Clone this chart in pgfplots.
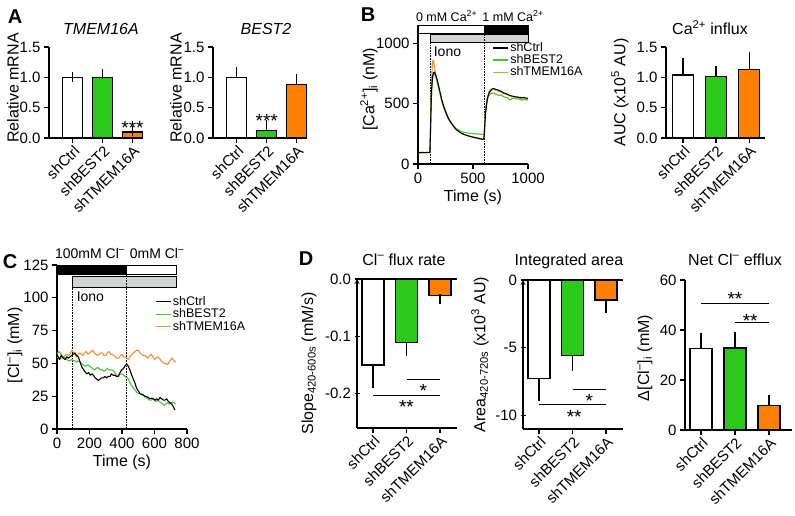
\documentclass[border=0pt]{standalone}
\usepackage{pgfplots}
\pgfplotsset{compat=1.18}
\usepackage{fontspec}
\setmainfont{Liberation Sans}
\definecolor{kgreen}{RGB}{44,200,28}
\definecolor{korange}{RGB}{255,128,0}
\definecolor{tgreen}{RGB}{70,200,50}
\definecolor{torange}{RGB}{245,145,50}
\definecolor{kgray}{RGB}{208,212,212}
\newcommand{\fs}[1]{\fontsize{#1}{#1}\selectfont}

\tikzset{
  stars/.style={font=\fs{19}, yshift=-4pt},
  stim/.style={draw=black, line width=1pt},
  ttl/.style={font=\fs{16}, anchor=base},
}
\pgfplotsset{
  base/.style={scale only axis, anchor=south west, axis lines=left,
    axis line style={-, line width=1.2pt}, tick style={black, line width=1.2pt},
    tick align=outside, major tick length=5pt, enlargelimits=false, clip=false,
    tick label style={font=\fs{15}}, label style={font=\fs{16}},
    /pgf/number format/assume math mode=true, /pgf/number format/1000 sep={}},
  ylab/.style 2 args={ylabel style={at={(axis description cs:#1,#2)}, anchor=center}},
  catbars/.style={xtick={0,1,2}, xticklabels={shCtrl,shBEST2,shTMEM16A},
    xticklabel style={rotate=45, anchor=north east, inner sep=1pt}, bar width=20pt},
  onedec/.style={yticklabel style={/pgf/number format/.cd, fixed, fixed zerofill, precision=1}},
  mybar/.style={ybar, draw=black, line width=1.2pt, fill=#1,
    error bars/.cd, y dir=plus, y explicit,
    error bar style={line width=1.2pt, black},
    error mark options={black, line width=1.2pt, mark size=5pt}},
  negbar/.style={ybar, draw=black, line width=1.2pt, fill=#1,
    error bars/.cd, y dir=minus, y explicit,
    error bar style={line width=1.2pt, black},
    error mark options={black, line width=1.2pt, mark size=5pt}},
  trace/.style={line width=1.1pt, no marks, line join=round, #1},
}

\begin{document}
\begin{tikzpicture}
\path[use as bounding box] (0pt,0pt) rectangle (795pt,-516pt);

% ---------- A: TMEM16A ----------
\begin{axis}[base, catbars, onedec, at={(49pt,-138pt)}, width=94pt, height=91pt,
  xmin=-0.8, xmax=2.35, ymin=0, ymax=1.5, ytick={0,0.5,1,1.5},
  ylabel={Relative mRNA}, ylab={-0.383}{0.55}]
\addplot[mybar=white] coordinates {(0,1.00) +- (0,0.01)};
\addplot[mybar=kgreen] coordinates {(1,1.00) +- (0,0.05)};
\addplot[mybar=korange] coordinates {(2,0.10) +- (0,0.01)};
\node[stars] at (axis cs:2,0.23) {***};
\end{axis}

% ---------- A: BEST2 ----------
\begin{axis}[base, catbars, onedec, at={(213pt,-138pt)}, width=94pt, height=91pt,
  xmin=-0.8, xmax=2.35, ymin=0, ymax=1.5, ytick={0,0.5,1,1.5},
  ylabel={Relative mRNA}, ylab={-0.394}{0.55}]
\addplot[mybar=white] coordinates {(0,1.00) +- (0,0.09)};
\addplot[mybar=kgreen] coordinates {(1,0.13) +- (0,0.08)};
\addplot[mybar=korange] coordinates {(2,0.88) +- (0,0.09)};
\node[stars] at (axis cs:1,0.35) {***};
\end{axis}

% ---------- B: Ca2+ traces ----------
\begin{axis}[base, at={(418pt,-164pt)}, width=110pt, height=139pt,
  xmin=0, xmax=1000, ymin=0, ymax=1150, xtick={0,500,1000}, ytick={0,500,1000},
  xlabel={Time (s)}, ylabel={[Ca\textsuperscript{2+}]\textsubscript{i} (nM)},
  ylab={-0.445}{0.536},
  reverse legend, legend cell align=left,
  legend style={draw=none, fill=none, at={(0.677,0.885)}, anchor=north west,
    font=\fs{12.5}, row sep=-1.5pt, inner sep=0pt, nodes={inner sep=1.5pt}},
  legend image code/.code={\draw[#1] (0pt,0pt) -- (15pt,0pt);}]
\draw[stim, fill=white] (axis cs:0,1083) rectangle (axis cs:600,1149);
\draw[stim, fill=black] (axis cs:600,1083) rectangle (axis cs:1000,1149);
\draw[stim, fill=kgray] (axis cs:110,1006) rectangle (axis cs:1000,1072);
\draw[densely dotted, line width=0.6pt] (axis cs:110,0) -- (axis cs:110,1006);
\draw[densely dotted, line width=0.6pt] (axis cs:600,0) -- (axis cs:600,1083);
\node[font=\fs{12.5}] at (axis cs:260,1223) {0 mM Ca\textsuperscript{2+}};
\node[font=\fs{12.5}] at (axis cs:864,1223) {1 mM Ca\textsuperscript{2+}};
\node[font=\fs{14}, anchor=west] at (axis cs:112,925) {Iono};
\addplot[trace=torange] coordinates {(0,95) (40,93) (80,96) (108,96) (113,280) (118,500) (124,700) (130,820) (136,858) (142,850) (150,800) (160,745) (170,700) (180,655) (195,600) (210,540) (225,490) (240,450) (255,415) (270,385) (285,360) (300,338) (320,315) (336,298) (350,285) (370,270) (390,258) (410,248) (430,240) (450,234) (470,228) (490,222) (510,217) (530,212) (550,209) (570,205) (585,202) (596,204) (602,240) (607,340) (613,430) (619,480) (626,530) (635,570) (645,595) (655,608) (665,618) (675,622) (688,618) (700,612) (715,608) (730,602) (745,598) (760,595) (775,586) (790,580) (805,576) (820,570) (835,565) (850,560) (865,556) (880,554) (895,550) (910,548) (925,545) (940,540) (955,536) (970,532) (985,530) (1000,528)};
\addlegendentry{shTMEM16A}
\addplot[trace=tgreen] coordinates {(0,95) (30,96) (60,93) (90,95) (108,95) (113,240) (118,430) (124,600) (132,705) (140,740) (148,745) (155,735) (165,710) (175,680) (185,645) (200,590) (215,532) (230,485) (245,447) (260,413) (276,380) (290,358) (305,340) (320,320) (336,302) (350,292) (370,280) (385,272) (400,266) (415,264) (430,260) (445,258) (460,255) (475,256) (490,252) (505,250) (520,252) (535,248) (550,249) (565,246) (580,247) (592,245) (598,248) (603,270) (608,350) (614,430) (620,480) (628,525) (638,555) (648,570) (658,580) (668,586) (678,585) (690,588) (700,580) (712,575) (725,570) (740,566) (755,572) (770,560) (785,555) (800,552) (815,548) (828,535) (840,530) (852,540) (865,546) (878,542) (890,538) (905,540) (920,536) (935,532) (950,528) (965,535) (980,538) (1000,535)};
\addlegendentry{shBEST2}
\addplot[trace=black] coordinates {(0,95) (20,93) (40,96) (60,94) (80,95) (100,94) (108,96) (113,250) (118,450) (124,620) (132,720) (140,755) (148,760) (155,750) (165,725) (175,695) (185,655) (200,595) (215,535) (230,487) (245,447) (260,412) (276,378) (290,356) (305,336) (320,315) (336,296) (350,283) (370,270) (385,260) (397,253) (415,246) (430,241) (445,236) (460,232) (475,229) (488,226) (505,222) (520,219) (535,216) (550,213) (565,210) (585,205) (596,207) (602,230) (607,320) (613,410) (619,460) (626,510) (635,555) (645,585) (655,600) (665,612) (675,620) (685,625) (695,622) (705,618) (720,614) (735,610) (750,604) (761,598) (775,590) (790,585) (805,580) (820,574) (835,568) (852,562) (870,560) (885,555) (900,556) (915,552) (930,550) (945,548) (960,550) (975,546) (990,545) (1000,544)};
\addlegendentry{shCtrl}
\end{axis}

% ---------- B: Ca2+ influx ----------
\begin{axis}[base, catbars, onedec, at={(666pt,-138pt)}, width=99pt, height=91pt,
  bar width=21pt, xmin=-0.515, xmax=2.48, ymin=0, ymax=1.5, ytick={0,0.5,1,1.5},
  ylabel={AUC (x10\textsuperscript{5} AU)}, ylab={-0.465}{0.5}]
\addplot[mybar=white] coordinates {(0,1.04) +- (0,0.19)};
\addplot[mybar=kgreen] coordinates {(1,1.01) +- (0,0.10)};
\addplot[mybar=korange] coordinates {(2,1.13) +- (0,0.20)};
\end{axis}

% ---------- C: Cl- traces ----------
\begin{axis}[base, at={(57pt,-429pt)}, width=130pt, height=164pt,
  xmin=0, xmax=800, ymin=0, ymax=125, xtick={0,200,...,800}, ytick={0,25,...,125},
  xlabel={Time (s)}, ylabel={[Cl\textsuperscript{--}]\textsubscript{i} (mM)},
  ylab={-0.323}{0.51},
  reverse legend, legend cell align=left,
  legend style={draw=none, fill=none, at={(0.755,0.82)}, anchor=north west,
    font=\fs{12.5}, row sep=-1pt, inner sep=0pt, nodes={inner sep=1.5pt}},
  legend image code/.code={\draw[#1] (0pt,0pt) -- (15pt,0pt);}]
\draw[stim, fill=black] (axis cs:0,118.1) rectangle (axis cs:425,125);
\draw[stim, fill=white] (axis cs:425,118.1) rectangle (axis cs:738,125);
\draw[stim, fill=kgray] (axis cs:95,108.2) rectangle (axis cs:738,115.9);
\draw[densely dotted, line width=0.6pt] (axis cs:95,0) -- (axis cs:95,108.2);
\draw[densely dotted, line width=0.6pt] (axis cs:425,0) -- (axis cs:425,118.1);
\node[font=\fs{14}] at (axis cs:203,134) {100mM Cl\textsuperscript{--}};
\node[font=\fs{14}] at (axis cs:615,134) {0mM Cl\textsuperscript{--}};
\node[font=\fs{14}, anchor=west] at (axis cs:100,100.5) {Iono};
\addplot[trace=torange] coordinates {(0,55) (10,54) (20,53) (30,55) (40,55) (50,56) (60,57) (70,56) (80,57) (90,60) (100,59) (110,57) (120,55) (130,57) (140,58) (150,57) (160,56) (170,58) (180,59) (190,57) (200,58) (210,59) (220,60) (230,58) (240,57) (250,56) (260,57) (270,58) (280,58) (290,56) (300,56) (310,58) (320,59) (330,57) (340,57) (350,56) (360,55) (370,54) (380,54) (390,56) (400,57) (410,55) (420,55) (430,54) (440,53) (450,55) (460,57) (470,58) (480,59) (490,60) (500,60) (510,58) (520,57) (530,56) (540,56) (550,55) (560,54) (570,56) (580,57) (590,55) (600,53) (610,54) (620,55) (630,54) (640,52) (650,51) (660,50) (670,50) (680,49) (690,51) (700,53) (710,54) (720,52) (730,51)};
\addlegendentry{shTMEM16A}
\addplot[trace=tgreen] coordinates {(0,57) (10,59) (20,58) (30,56) (40,55) (50,54) (60,53) (70,52) (80,52) (90,53) (100,52) (110,52) (120,51) (130,52) (140,51) (150,50) (160,49) (170,48) (180,48) (190,49) (200,48) (210,47) (220,46) (230,45) (240,46) (250,47) (260,46) (270,45) (280,45) (290,44) (300,45) (310,46) (320,45) (330,45) (340,45) (350,44) (360,42) (370,40) (380,41) (390,42) (400,42) (410,41) (420,40) (430,39) (440,38) (450,35) (460,33) (470,31) (480,30) (490,28) (500,27) (510,27) (520,26) (530,26) (540,25) (550,24) (560,23) (570,22) (580,22) (590,23) (600,22) (610,21) (620,22) (630,21) (640,20) (650,19) (660,18) (670,19) (680,20) (690,19) (700,20) (710,20) (720,20) (730,19)};
\addlegendentry{shBEST2}
\addplot[trace=black] coordinates {(0,56) (8,55) (15,53) (25,56) (39,54) (50,53) (60,55) (70,54) (80,55) (90,56) (100,57) (111,58) (120,56) (131,55) (140,52) (152,47.5) (160,46) (170,44) (183,42) (195,43) (205,41) (215,42) (224,41) (235,39) (245,38) (254,37) (265,38) (275,39) (285,39) (295,40) (305,39) (315,40) (326,40) (335,42) (345,41) (357,41) (367,40) (377,40) (388,43) (398,45) (408,46) (418,48) (429,49.5) (438,48) (449,45) (460,41) (470,38) (480,35) (490,31) (500,29) (511,27) (520,26.5) (530,26) (540,25) (552,24.6) (562,24) (572,23) (582,23.5) (593,23) (603,22) (613,23) (623,22) (634,24) (645,23) (655,22) (665,22) (675,23) (685,21) (695,20) (705,19) (716,17) (726,14.5)};
\addlegendentry{shCtrl}
\end{axis}

% ---------- D: Cl- flux rate ----------
\begin{axis}[base, catbars, onedec, at={(357pt,-428pt)}, width=100pt, height=149pt,
  axis x line=box, axis y line=left, xtick pos=left, ytick pos=left,
  bar width=22pt, xmin=-0.48, xmax=2.51, ymin=-0.26, ymax=0, ytick={-0.2,-0.1,0},
  ylabel={Slope\textsubscript{420-600s} (mM/s)}, ylab={-0.48}{0.433}]
\addplot[negbar=white] coordinates {(0,-0.150) +- (0,0.031)};
\addplot[negbar=kgreen] coordinates {(1,-0.111) +- (0,0.014)};
\addplot[negbar=korange] coordinates {(2,-0.029) +- (0,0.006)};
\draw[line width=1pt] (axis cs:1,-0.176) -- (axis cs:2,-0.176);
\draw[line width=1pt] (axis cs:0,-0.203) -- (axis cs:2,-0.203);
\node[stars] at (axis cs:1.5,-0.188) {*};
\node[stars] at (axis cs:1,-0.217) {**};
\end{axis}

% ---------- D: Integrated area ----------
\begin{axis}[base, catbars, at={(523pt,-429pt)}, width=100pt, height=149pt,
  axis x line=box, axis y line=left, xtick pos=left, ytick pos=left,
  bar width=22pt, xmin=-0.48, xmax=2.51, ymin=-11, ymax=0, ytick={-10,-5,0},
  ylabel={Area\textsubscript{420-720s} (x10\textsuperscript{3} AU)}, ylab={-0.43}{0.5}]
\addplot[negbar=white] coordinates {(0,-7.28) +- (0,1.27)};
\addplot[negbar=kgreen] coordinates {(1,-5.60) +- (0,0.74)};
\addplot[negbar=korange] coordinates {(2,-1.47) +- (0,0.63)};
\draw[line width=1pt] (axis cs:1,-8.1) -- (axis cs:2,-8.1);
\draw[line width=1pt] (axis cs:0,-9.2) -- (axis cs:2,-9.2);
\node[stars] at (axis cs:1.5,-8.6) {*};
\node[stars] at (axis cs:1.05,-9.8) {**};
\end{axis}

% ---------- D: Net Cl- efflux ----------
\begin{axis}[base, catbars, at={(685pt,-430pt)}, width=107pt, height=150pt,
  bar width=22pt, xmin=-0.47, xmax=2.68, ymin=0, ymax=60, ytick={0,20,40,60},
  ylabel={Δ[Cl\textsuperscript{--}]\textsubscript{i} (mM)}, ylab={-0.374}{0.48}]
\addplot[mybar=white] coordinates {(0,32.5) +- (0,4.2)};
\addplot[mybar=kgreen] coordinates {(1,32.8) +- (0,4.5)};
\addplot[mybar=korange] coordinates {(2,9.7) +- (0,2.3)};
\draw[line width=1pt] (axis cs:0,50.8) -- (axis cs:2,50.8);
\draw[line width=1pt] (axis cs:1,42.9) -- (axis cs:2,42.9);
\node[stars] at (axis cs:1,54) {**};
\node[stars] at (axis cs:1.45,45.3) {**};
\end{axis}

% titles
\node[ttl] at (101pt,-35pt) {\itshape TMEM16A};
\node[ttl] at (266pt,-35pt) {\itshape BEST2};
\node[ttl] at (710pt,-35pt) {Ca\textsuperscript{2+} influx};
\node[ttl] at (404pt,-265pt) {Cl\textsuperscript{--} flux rate};
\node[ttl] at (569pt,-265pt) {Integrated area};
\node[ttl] at (735pt,-265pt) {Net Cl\textsuperscript{--} efflux};

% panel letters
\node[font=\fs{20}\bfseries] at (15pt,-17pt) {A};
\node[font=\fs{20}\bfseries] at (368pt,-15pt) {B};
\node[font=\fs{20}\bfseries] at (10pt,-262pt) {C};
\node[font=\fs{20}\bfseries] at (306pt,-259pt) {D};
\end{tikzpicture}
\end{document}
